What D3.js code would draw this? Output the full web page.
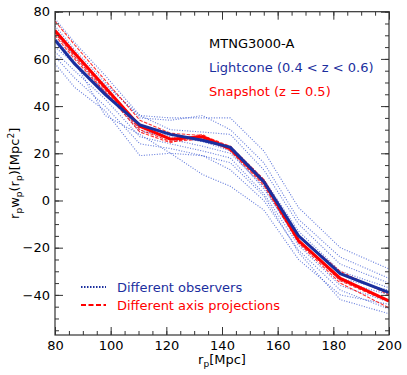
<!DOCTYPE html>
<html>
<head>
<meta charset="utf-8">
<script src="https://cdn.jsdelivr.net/npm/d3@7"></script>
<style>
  body { margin: 0; background: #fff; }
  svg text { font-family: "DejaVu Sans", sans-serif; }
</style>
</head>
<body>
<div id="chart"></div>
<script>
// separation bins (Mpc)
var rp = [80, 87, 98, 110.5, 121.5, 133, 143, 155, 167.5, 182.5, 200];

// mean curves
var lightconeMean = [68, 58, 45, 32, 28, 25.5, 22.5, 8, -15, -31, -39];
var snapshotMean  = [72, 62.5, 48, 31.5, 26, 27, 22, 8, -17, -33, -42.5];

// different axis projections (snapshot)
var projX = [76, 66, 51, 34, 28.5, 27.5, 23, 9, -15, -30, -40];
var projY = [71, 61, 47, 30, 25, 26, 21.5, 7.5, -17, -34, -43];
var projZ = [70, 60, 46, 29, 24.5, 28, 21, 6.5, -18, -35, -45.5];

// different observers (lightcone)
var obs1  = [77, 67, 53, 36, 35, 35, 35, 21, -3, -20, -29];
var obs2  = [74, 64, 50, 35, 34, 36, 30, 16, -8, -24, -33];
var obs3  = [71, 62, 49, 36, 30, 29, 28, 13, -10, -27, -35];
var obs4  = [67, 58, 46, 31, 27, 25, 23, 9, -13, -30, -37];
var obs5  = [65, 58, 46, 29, 28, 25, 21, 5, -17, -34, -40];
var obs6  = [63, 55, 43, 27, 24, 21, 18, 3, -19, -36, -43];
var obs7  = [61, 52, 40, 24, 22, 19, 13, 0, -21, -38, -46];
var obs8  = [58, 48, 38, 19, 20, 19, 16, 2, -22, -42, -48];
var obs9  = [72, 61, 46, 30, 26, 23, 20, 6, -18, -33, -38];
var obs10 = [69, 59, 36, 28, 20, 11, 6, -4, -25, -40, -44];

var observers = [obs1, obs2, obs3, obs4, obs5, obs6, obs7, obs8, obs9, obs10];
var projections = [projX, projY, projZ];

var xTicks = [80, 100, 120, 140, 160, 180, 200];
var yTicks = [-40, -20, 0, 20, 40, 60, 80];

var width = 407, height = 375;
var pLeft = 55, pRight = 389, pTop = 11.7, pBottom = 335;

var blue = "#1b2f9e";
var thinBlue = "#2f4fd0";
var red = "#ff0000";

var svg = d3.select("#chart").append("svg")
    .attr("width", width)
    .attr("height", height);

var xScale = d3.scaleLinear().domain([80, 200]).range([pLeft, pRight]);
var yScale = d3.scaleLinear().domain([-57, 80]).range([pBottom, pTop]);

svg.append("clipPath").attr("id", "clip")
    .append("rect")
    .attr("x", pLeft).attr("y", pTop)
    .attr("width", pRight - pLeft).attr("height", pBottom - pTop);

var line = d3.line()
    .x(function(d, i) { return xScale(rp[i]); })
    .y(function(d) { return yScale(d); });

var lines = svg.append("g").attr("clip-path", "url(#clip)");

observers.forEach(function(s) {
  lines.append("path")
      .attr("d", line(s))
      .attr("fill", "none")
      .attr("stroke", thinBlue)
      .attr("stroke-opacity", 0.75)
      .attr("stroke-width", 1.1)
      .attr("stroke-dasharray", "1,1.6");
});

projections.forEach(function(s) {
  lines.append("path")
      .attr("d", line(s))
      .attr("fill", "none")
      .attr("stroke", red)
      .attr("stroke-opacity", 0.8)
      .attr("stroke-width", 1.1)
      .attr("stroke-dasharray", "3.5,1.5");
});

lines.append("path")
    .attr("d", line(snapshotMean))
    .attr("fill", "none")
    .attr("stroke", red)
    .attr("stroke-width", 3);

lines.append("path")
    .attr("d", line(lightconeMean))
    .attr("fill", "none")
    .attr("stroke", blue)
    .attr("stroke-width", 3);

// axes, ticks pointing in on all four sides
var axisColor = "#333";
function styleAxis(g) {
  g.select(".domain").remove();
  g.selectAll("line").attr("stroke", axisColor).attr("stroke-width", 1);
  g.selectAll("text").attr("fill", "#000").style("font-size", "13px")
      .style("font-family", "DejaVu Sans, sans-serif");
}

var minorX = d3.range(80, 201, 5);
var minorY = d3.range(-55, 81, 5);

svg.append("g").attr("transform", "translate(0," + pBottom + ")")
    .call(d3.axisBottom(xScale).tickValues(minorX).tickSize(-4).tickFormat(""))
    .call(styleAxis);
svg.append("g").attr("transform", "translate(0," + pBottom + ")")
    .call(d3.axisBottom(xScale).tickValues(xTicks).tickSize(-8).tickPadding(6))
    .call(styleAxis);
svg.append("g").attr("transform", "translate(0," + pTop + ")")
    .call(d3.axisTop(xScale).tickValues(minorX).tickSize(-4).tickFormat(""))
    .call(styleAxis);
svg.append("g").attr("transform", "translate(0," + pTop + ")")
    .call(d3.axisTop(xScale).tickValues(xTicks).tickSize(-8).tickFormat(""))
    .call(styleAxis);

svg.append("g").attr("transform", "translate(" + pLeft + ",0)")
    .call(d3.axisLeft(yScale).tickValues(minorY).tickSize(-4).tickFormat(""))
    .call(styleAxis);
svg.append("g").attr("transform", "translate(" + pLeft + ",0)")
    .call(d3.axisLeft(yScale).tickValues(yTicks).tickSize(-8).tickPadding(5)
      .tickFormat(function(d) { return d < 0 ? "\u2212" + Math.abs(d) : d; }))
    .call(styleAxis);
svg.append("g").attr("transform", "translate(" + pRight + ",0)")
    .call(d3.axisRight(yScale).tickValues(minorY).tickSize(-4).tickFormat(""))
    .call(styleAxis);
svg.append("g").attr("transform", "translate(" + pRight + ",0)")
    .call(d3.axisRight(yScale).tickValues(yTicks).tickSize(-8).tickFormat(""))
    .call(styleAxis);

svg.append("rect")
    .attr("x", pLeft).attr("y", pTop)
    .attr("width", pRight - pLeft).attr("height", pBottom - pTop)
    .attr("fill", "none")
    .attr("stroke", axisColor)
    .attr("stroke-width", 1.2);

// axis labels
var xl = svg.append("text")
    .attr("x", (pLeft + pRight) / 2)
    .attr("y", 364)
    .attr("text-anchor", "middle")
    .style("font-size", "13px");
xl.append("tspan").text("r");
xl.append("tspan").attr("dy", 3).style("font-size", "9px").text("p");
xl.append("tspan").attr("dy", -3).text("[Mpc]");

var yl = svg.append("text")
    .attr("transform", "translate(19," + ((pTop + pBottom) / 2) + ") rotate(-90)")
    .attr("text-anchor", "middle")
    .style("font-size", "13px");
yl.append("tspan").text("r");
yl.append("tspan").attr("dy", 3).style("font-size", "9px").text("p");
yl.append("tspan").attr("dy", -3).text("w");
yl.append("tspan").attr("dy", 3).style("font-size", "9px").text("p");
yl.append("tspan").attr("dy", -3).text("(r");
yl.append("tspan").attr("dy", 3).style("font-size", "9px").text("p");
yl.append("tspan").attr("dy", -3).text(")[Mpc");
yl.append("tspan").attr("dy", -5).style("font-size", "9px").text("2");
yl.append("tspan").attr("dy", 5).text("]");

// annotations
var notes = [
  { t: "MTNG3000-A", c: "#000", y: 48 },
  { t: "Lightcone (0.4 < z < 0.6)", c: blue, y: 72 },
  { t: "Snapshot (z = 0.5)", c: red, y: 96 }
];
svg.selectAll(".note").data(notes).enter().append("text")
    .attr("class", "note")
    .attr("x", 209)
    .attr("y", function(d) { return d.y; })
    .attr("fill", function(d) { return d.c; })
    .style("font-size", "13px")
    .text(function(d) { return d.t; });

// legend
var legend = [
  { t: "Different observers", c: blue, dash: "1.5,1.5", y: 287 },
  { t: "Different axis projections", c: red, dash: "5,2.5", y: 305 }
];
var lg = svg.selectAll(".leg").data(legend).enter().append("g").attr("class", "leg");
lg.append("line")
    .attr("x1", 81).attr("x2", 106)
    .attr("y1", function(d) { return d.y; })
    .attr("y2", function(d) { return d.y; })
    .attr("stroke", function(d) { return d.c; })
    .attr("stroke-width", 1.8)
    .attr("stroke-dasharray", function(d) { return d.dash; });
lg.append("text")
    .attr("x", 117)
    .attr("y", function(d) { return d.y + 5; })
    .attr("fill", function(d) { return d.c; })
    .style("font-size", "13px")
    .text(function(d) { return d.t; });
</script>
</body>
</html>
